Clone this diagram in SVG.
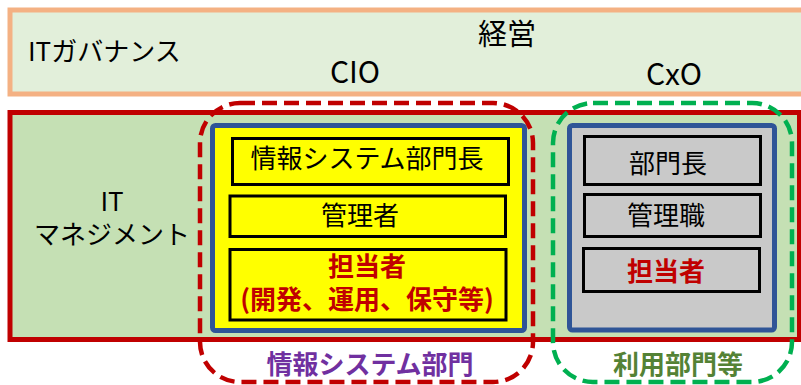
<svg xmlns="http://www.w3.org/2000/svg" width="801" height="385" viewBox="0 0 801 385">
<style>
text { font-family: "Noto Sans CJK JP", "Noto Sans", sans-serif; fill: #000; }
.c { text-anchor: middle; }
.t26 { font-size: 26px; }
.b { font-weight: bold; }
.red { fill: #C00000; }
.inner { stroke: #000; stroke-width: 3; }
.blue { stroke: #2F5597; stroke-width: 5; }
.dash { fill: none; stroke-width: 4.5; stroke-dasharray: 15 7; }
</style>
<g id="governance">
<rect x="10" y="10" width="800" height="84" fill="#E2EFDA" stroke="#F4B183" stroke-width="5"/>
<text x="28" y="61" class="t26">ITガバナンス</text>
<text x="507" y="45" class="c" style="font-size:29px">経営</text>
<text x="355" y="83" class="c" style="font-size:30px">CIO</text>
<text x="674" y="85" class="c" style="font-size:30px">CxO</text>
</g>
<g id="management">
<rect x="10" y="112.5" width="789.5" height="227" fill="#C5E0B4" stroke="#C00000" stroke-width="5"/>
<text x="112" y="211" class="c t26">IT</text>
<text x="112" y="244" class="c t26">マネジメント</text>
</g>
<g id="is-dept">
<rect x="212.5" y="125.5" width="312" height="205" rx="3" fill="#FFFF00" class="blue"/>
<g id="is-head">
<rect x="232.5" y="138.5" width="276" height="46" fill="#FFFF00" class="inner"/>
<text x="367" y="168" class="c t26">情報システム部門長</text>
</g>
<g id="is-manager">
<rect x="230" y="196" width="275.5" height="40.5" fill="#FFFF00" class="inner"/>
<text x="360" y="225" class="c t26">管理者</text>
</g>
<g id="is-staff">
<rect x="230" y="249.5" width="276" height="70.5" fill="#FFFF00" class="inner"/>
<text x="367" y="276" class="c t26 b red">担当者</text>
<text x="367" y="309" class="c t26 b red">(開発、運用、保守等)</text>
</g>
<rect x="200" y="103" width="333" height="279" rx="40" class="dash" stroke="#C00000"/>
<text x="370" y="374" class="c t26 b" style="fill:#7030A0">情報システム部門</text>
</g>
<g id="user-dept">
<rect x="569.5" y="125.5" width="205" height="204.5" rx="3" fill="#C9C9C9" class="blue"/>
<g id="u-head">
<rect x="584.5" y="136.5" width="176" height="48" fill="#C9C9C9" class="inner"/>
<text x="668" y="173" class="c t26">部門長</text>
</g>
<g id="u-manager">
<rect x="584.5" y="194.5" width="176" height="42" fill="#C9C9C9" class="inner"/>
<text x="666" y="225" class="c t26">管理職</text>
</g>
<g id="u-staff">
<rect x="583.5" y="248.5" width="176" height="43" fill="#C9C9C9" class="inner"/>
<text x="666" y="281" class="c t26 b red">担当者</text>
</g>
<rect x="553" y="103" width="239" height="279" rx="40" class="dash" stroke="#00B050"/>
<text x="678" y="374" class="c t26 b" style="fill:#548235">利用部門等</text>
</g>
<g id="connectors"></g>
</svg>
